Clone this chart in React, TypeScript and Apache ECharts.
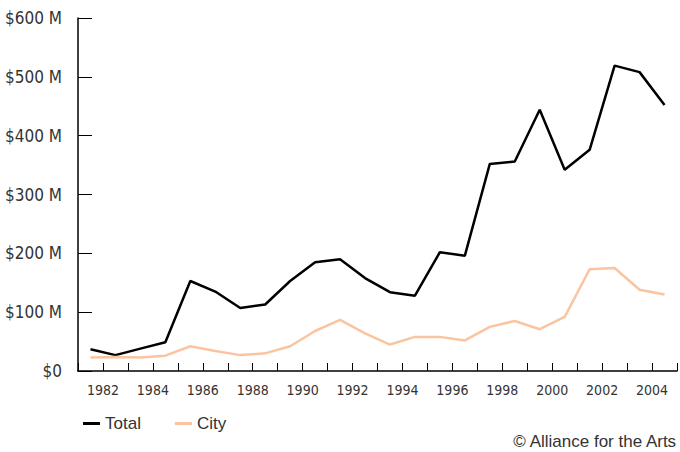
import React, { useEffect, useRef } from "react";
import * as echarts from "echarts";

const years = [1981, 1982, 1983, 1984, 1985, 1986, 1987, 1988, 1989, 1990, 1991, 1992, 1993, 1994, 1995, 1996, 1997, 1998, 1999, 2000, 2001, 2002, 2003, 2004];
const totalValues = [37, 27, 38, 49, 153, 135, 107, 113, 153, 185, 190, 158, 134, 128, 202, 196, 352, 356, 444, 342, 376, 519, 508, 452];
const cityValues = [23, 24, 23, 26, 42, 34, 27, 30, 42, 68, 87, 64, 45, 58, 58, 52, 75, 85, 71, 92, 173, 175, 138, 130];
const yTicks = [0, 100, 200, 300, 400, 500, 600];

const condensed = "'Liberation Sans Narrow', 'DejaVu Sans Condensed', 'Roboto', sans-serif";
const regular = "'Liberation Sans', 'Roboto', sans-serif";

export default function App() {
  const ref = useRef<HTMLDivElement>(null);
  useEffect(() => {
    if (!ref.current) return;
    const chart = echarts.init(ref.current, undefined, { renderer: "svg" });
    const toPairs = (vals: number[]) => years.map((y, i) => [y + 0.5, vals[i]]);
    chart.setOption({
      animation: false,
      backgroundColor: "#ffffff",
      grid: { left: 78, top: 18, width: 600, bottom: 81, containLabel: false },
      xAxis: {
        type: "value",
        min: 1981,
        max: 2005,
        interval: 1,
        axisLine: { show: true, lineStyle: { color: "#000", width: 1.5 } },
        axisTick: { show: true, inside: true, length: 8, lineStyle: { color: "#000", width: 1 } },
        splitLine: { show: false },
        axisLabel: {
          color: "#333",
          fontFamily: condensed,
          fontSize: 14,
          margin: 12,
          formatter: (v: number) => (v % 2 === 0 ? String(v) : ""),
        },
      },
      yAxis: {
        type: "value",
        min: yTicks[0],
        max: yTicks[yTicks.length - 1],
        interval: 100,
        axisLine: { show: true, lineStyle: { color: "#000", width: 1.5 } },
        axisTick: { show: true, inside: true, length: 14, lineStyle: { color: "#000", width: 1 } },
        splitLine: { show: false },
        axisLabel: {
          color: "#333",
          fontFamily: condensed,
          fontSize: 17,
          margin: 16,
          formatter: (v: number) => (v === 0 ? "$0" : "$" + v + " M"),
        },
      },
      legend: {
        left: 78,
        top: 410,
        itemWidth: 17,
        itemHeight: 3,
        itemGap: 34,
        icon: "rect",
        textStyle: { color: "#333", fontFamily: regular, fontSize: 17 },
        data: ["Total", "City"],
      },
      graphic: [
        {
          type: "text",
          right: 2,
          top: 433,
          style: { text: "© Alliance for the Arts", fill: "#333", font: "17px " + regular },
        },
      ],
      series: [
        {
          name: "Total",
          type: "line",
          data: toPairs(totalValues),
          showSymbol: false,
          symbol: "none",
          lineStyle: { color: "#000", width: 2.5 },
          itemStyle: { color: "#000" },
        },
        {
          name: "City",
          type: "line",
          data: toPairs(cityValues),
          showSymbol: false,
          symbol: "none",
          lineStyle: { color: "#fbc4a0", width: 2.5 },
          itemStyle: { color: "#fbc4a0" },
        },
      ],
    });
    return () => chart.dispose();
  }, []);
  return <div ref={ref} style={{ position: "fixed", left: 0, top: 0, width: 680, height: 452 }} />;
}
